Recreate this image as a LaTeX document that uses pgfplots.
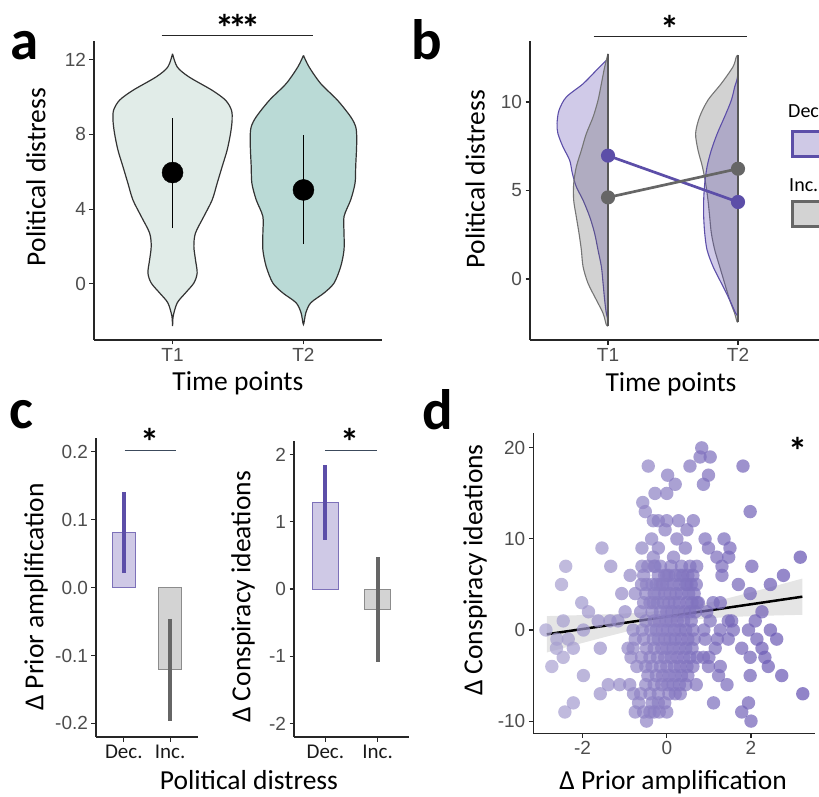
\documentclass[border=0pt]{standalone}
\usepackage{pgfplots}
\pgfplotsset{compat=1.18}
\usepackage{fontspec}
\setmainfont{Carlito}
\newfontfamily\tickfont{Liberation Sans}

\definecolor{tickgray}{RGB}{77,77,77}
\definecolor{vioA}{RGB}{225,236,232}
\definecolor{vioB}{RGB}{186,218,214}
\definecolor{decline}{RGB}{92,78,168}
\definecolor{decfill}{RGB}{80,60,170}
\definecolor{incline}{RGB}{102,102,102}
\definecolor{incfill}{RGB}{90,90,90}
\definecolor{decbar}{RGB}{207,201,230}
\definecolor{incbar}{RGB}{211,211,211}
\definecolor{sigline}{RGB}{60,74,92}

\pgfplotsset{
  gg/.style={
    scale only axis, clip=false, anchor=south west,
    axis x line*=bottom, axis y line*=left,
    axis line style={-, line width=1.1pt, black!85},
    tick style={line width=1.1pt, black!85},
    tick align=outside, major tick length=4.5pt,
    tick label style={font=\tickfont\fontsize{19}{19}\selectfont, text=tickgray},
    /pgf/number format/assume math mode=true,
    label style={font=\fontsize{27.5}{30}\selectfont, anchor=center},
  },
}
\newcommand{\stars}{\fontsize{38}{38}\selectfont\bfseries}

\begin{document}
\begin{tikzpicture}
\useasboundingbox (0pt,0pt) rectangle (819pt,796pt);
\clip (0pt,0pt) rectangle (819pt,796pt);

% ---------- a: violins ----------
\begin{axis}[gg, at={(94pt,456pt)}, width=288pt, height=299pt,
  xmin=0.4, xmax=2.6, ymin=-3, ymax=13,
  xtick={1,2}, xticklabels={T1,T2}, ytick={0,4,8,12},
  xlabel={Time points}, ylabel={Political distress},
  xlabel style={at={(axis description cs:0.5,-0.1455)}},
  ylabel style={at={(axis description cs:-0.202,0.545)}}]
\addplot[fill=vioA, draw=black!80, line width=1.2pt, smooth] coordinates {
 (1.000,12.32) (1.036,11.61) (1.125,11.08) (1.303,10.36) (1.405,9.83) (1.450,9.30)
 (1.455,8.76) (1.443,8.05) (1.417,7.16) (1.379,6.28) (1.341,5.39) (1.303,4.50)
 (1.239,3.61) (1.175,2.72) (1.163,2.01) (1.175,1.30) (1.188,0.59) (1.163,0.05)
 (1.099,-0.48) (1.036,-1.01) (1.005,-1.72) (1.000,-2.26)
 (0.995,-1.72) (0.964,-1.01) (0.901,-0.48) (0.837,0.05) (0.812,0.59) (0.825,1.30)
 (0.837,2.01) (0.825,2.72) (0.761,3.61) (0.697,4.50) (0.659,5.39) (0.621,6.28)
 (0.583,7.16) (0.557,8.05) (0.545,8.76) (0.550,9.30) (0.595,9.83) (0.697,10.36)
 (0.875,11.08) (0.964,11.61) (1.000,12.32)};
\addplot[fill=vioB, draw=black!80, line width=1.2pt, smooth] coordinates {
 (2.000,12.23) (2.043,11.61) (2.132,10.72) (2.260,9.83) (2.361,8.94) (2.399,8.41)
 (2.407,7.88) (2.405,7.16) (2.399,6.28) (2.394,5.39) (2.361,4.50) (2.310,3.61)
 (2.310,2.72) (2.310,1.83) (2.285,0.94) (2.234,0.05) (2.158,-0.48) (2.056,-1.01)
 (2.018,-1.55) (2.000,-2.17)
 (1.982,-1.55) (1.944,-1.01) (1.842,-0.48) (1.766,0.05) (1.715,0.94) (1.690,1.83)
 (1.690,2.72) (1.690,3.61) (1.639,4.50) (1.606,5.39) (1.601,6.28) (1.595,7.16)
 (1.593,7.88) (1.601,8.41) (1.639,8.94) (1.740,9.83) (1.868,10.72) (1.957,11.61)
 (2.000,12.23)};
\addplot[black, line width=1.5pt] coordinates {(1,2.99) (1,8.90)};
\addplot[black, line width=1.5pt] coordinates {(2,2.13) (2,7.96)};
\addplot[only marks, mark=*, mark size=10.5pt, black] coordinates {(1,5.96) (2,5.03)};
\draw[line width=1.1pt, black!85] (axis cs:0.916,13.27) -- (axis cs:2.076,13.27);
\node[font=\stars] at (axis cs:1.5,13.72) {*\kern-6pt*\kern-6pt*};
\end{axis}

% ---------- b: split violins ----------
\begin{axis}[gg, at={(530pt,456pt)}, width=289pt, height=299pt,
  xmin=0.4, xmax=2.623, ymin=-3.45, ymax=13.45,
  xtick={1,2}, xticklabels={T1,T2}, ytick={0,5,10},
  xlabel={Time points}, ylabel={Political distress},
  xlabel style={at={(axis description cs:0.488,-0.149)}},
  ylabel style={at={(axis description cs:-0.19,0.538)}}]
\addplot[fill=decfill, fill opacity=0.27, draw=decline, line width=1.1pt, smooth] coordinates {
 (1.000,12.45) (0.974,12.26) (0.910,11.79) (0.808,11.03) (0.679,10.28) (0.623,9.53)
 (0.608,8.78) (0.615,8.21) (0.654,7.46) (0.705,6.71) (0.726,5.96) (0.756,5.21)
 (0.808,4.45) (0.859,3.52) (0.897,2.58) (0.923,1.64) (0.949,0.70) (0.962,-0.24)
 (0.974,-1.18) (0.987,-1.94) (1.000,-2.30)};
\addplot[fill=incfill, fill opacity=0.27, draw=incline!90, line width=1.1pt, smooth] coordinates {
 (1.000,12.73) (0.974,11.97) (0.949,11.03) (0.923,10.09) (0.885,9.15) (0.833,8.21)
 (0.795,7.27) (0.756,6.33) (0.736,5.39) (0.736,4.45) (0.756,3.52) (0.777,2.58)
 (0.795,1.64) (0.808,0.70) (0.846,-0.24) (0.910,-1.18) (0.962,-1.94) (0.987,-2.59)
 (1.000,-2.65)};
\addplot[fill=incfill, fill opacity=0.27, draw=incline!90, line width=1.1pt, smooth] coordinates {
 (2.000,12.64) (1.987,12.56) (1.962,12.00) (1.872,11.05) (1.769,10.11) (1.705,9.17)
 (1.674,8.23) (1.692,7.29) (1.726,6.35) (1.751,5.40) (1.769,4.46) (1.782,3.52)
 (1.795,2.58) (1.821,1.64) (1.859,0.70) (1.897,-0.24) (1.936,-1.19) (1.974,-1.94)
 (1.992,-2.41) (2.000,-2.45)};
\addplot[fill=decfill, fill opacity=0.27, draw=decline, line width=1.1pt, smooth] coordinates {
 (2.000,11.60) (1.990,11.20) (1.975,10.87) (1.949,10.11) (1.897,9.17) (1.841,8.23)
 (1.795,7.29) (1.762,6.35) (1.744,5.40) (1.736,4.46) (1.736,3.52) (1.744,2.58)
 (1.762,1.64) (1.808,0.70) (1.872,-0.24) (1.936,-1.19) (1.982,-1.94) (2.000,-2.10)};
\addplot[incline!85!black, line width=1.5pt] coordinates {(1,-2.65) (1,12.73)};
\addplot[incline!85!black, line width=1.5pt] coordinates {(2,-2.45) (2,12.64)};
\addplot[decline, line width=2.7pt, mark=*, mark size=5.7pt] coordinates {(1,6.97) (2,4.35)};
\addplot[incline, line width=2.7pt, mark=*, mark size=5.7pt] coordinates {(1,4.61) (2,6.23)};
\draw[line width=1.1pt, black!85] (axis cs:0.89,13.69) -- (axis cs:2.07,13.69);
\node[font=\stars] at (axis cs:1.48,14.16) {*};
\end{axis}

% ---------- c: bar charts ----------
\begin{axis}[gg, at={(96pt,59pt)}, width=102pt, height=299pt,
  xmin=0.4, xmax=2.6, ymin=-0.22, ymax=0.22,
  xtick={1,2}, xticklabels={Dec.,Inc.},
  ytick={-0.2,-0.1,0,0.1,0.2}, yticklabels={-0.2,-0.1,0.0,0.1,0.2},
  xticklabel style={font=\fontsize{21}{21}\selectfont, text=black!90},
  ylabel={Δ Prior amplification},
  ylabel style={at={(axis description cs:-0.588,0.468)}}]
\addplot[ybar, bar shift=0pt, bar width=0.5, fill=decbar, draw=decline!80, line width=1pt] coordinates {(1,0.081)};
\addplot[ybar, bar shift=0pt, bar width=0.5, fill=incbar, draw=black!45, line width=1pt] coordinates {(2,-0.121)};
\addplot[decline, line width=4pt] coordinates {(1,0.021) (1,0.141)};
\addplot[incline, line width=4pt] coordinates {(2,-0.046) (2,-0.197)};
\draw[line width=1.1pt, sigline] (axis cs:1.02,0.2014) -- (axis cs:2.13,0.2014);
\node[font=\stars] at (axis cs:1.57,0.2149) {*};
\end{axis}

\begin{axis}[gg, at={(294pt,59pt)}, width=115pt, height=296pt,
  xmin=0.4, xmax=2.6, ymin=-2.2, ymax=2.2,
  xtick={1,2}, xticklabels={Dec.,Inc.}, ytick={-2,-1,0,1,2},
  xticklabel style={font=\fontsize{21}{21}\selectfont, text=black!90},
  ylabel={Δ Conspiracy ideations},
  ylabel style={at={(axis description cs:-0.443,0.473)}}]
\addplot[ybar, bar shift=0pt, bar width=0.5, fill=decbar, draw=decline!80, line width=1pt] coordinates {(1,1.287)};
\addplot[ybar, bar shift=0pt, bar width=0.5, fill=incbar, draw=black!45, line width=1pt] coordinates {(2,-0.30)};
\addplot[decline, line width=4pt] coordinates {(1,0.73) (1,1.84)};
\addplot[incline, line width=4pt] coordinates {(2,0.47) (2,-1.08)};
\draw[line width=1.1pt, sigline] (axis cs:0.99,2.056) -- (axis cs:1.99,2.056);
\node[font=\stars] at (axis cs:1.47,2.193) {*};
\end{axis}

% ---------- d: scatter ----------
\begin{axis}[gg, at={(533.3pt,62.7pt)}, width=281.7pt, height=300pt,
  xmin=-3.17, xmax=3.52, ymin=-11.34, ymax=21.6,
  xtick={-2,0,2}, ytick={-10,0,10,20},
  xlabel={Δ Prior amplification}, ylabel={Δ Conspiracy ideations},
  xlabel style={at={(axis description cs:0.496,-0.164)}},
  ylabel style={at={(axis description cs:-0.207,0.544)}},
  colormap={lav}{rgb255=(172,165,210) rgb255=(98,79,176)},
  point meta min=-3, point meta max=3.3]
\addplot[scatter, only marks, mark=*, mark size=6.7pt, point meta=x,
  scatter/use mapped color={fill=mapped color},
  mark options={fill opacity=0.7, draw opacity=0}] coordinates {
 (0.83,20) (0.79,19) (1.03,19) (-0.44,18) (0.55,18) (1.81,18) (0.02,17) (0.99,17)
 (0.87,16) (0.20,16) (-0.28,15) (0.00,15) (-0.57,14) (-0.51,13) (1.98,13)
 (-0.32,12) (-0.20,12) (0.00,12) (0.28,12) (0.63,12) (-0.04,11) (0.48,11)
 (-0.36,10) (0.24,10) (0.91,10) (1.36,10)
 (-1.54,9) (-0.59,9) (-0.20,9) (0.44,9) (0.99,9) (1.50,9)
 (-0.32,8) (0.16,8) (1.19,8) (1.47,8) (3.17,8)
 (-2.40,7) (-1.33,7) (-0.59,7) (-0.28,7) (0.71,7) (1.31,7) (2.02,7)
 (-0.87,6) (0.00,6) (0.32,6) (1.31,6) (2.77,6)
 (-2.50,5) (-0.48,5) (-0.16,5) (0.48,5) (1.70,5) (2.46,5)
 (-1.07,4) (-0.75,4) (1.98,4) (-2.02,3) (-0.32,3) (1.27,3) (0.75,3) (1.10,3)
 (-1.86,2) (-0.99,2) (2.26,2) (0.95,2)
 (-2.46,1) (-1.63,1) (-1.35,1) (-1.16,1) (1.03,1) (1.46,1) (1.54,1) (2.10,1)
 (-2.87,0) (-1.98,0) (1.27,0) (1.58,0) (1.94,0) (2.46,0) (0.88,0) (-0.80,0)
 (-2.61,-1) (-2.34,-1) (0.91,-1) (1.46,-1) (2.14,-1) (2.61,-1) (1.20,-1) (-0.75,-1)
 (-2.22,-2) (-1.58,-2) (-2.62,-2) (1.15,-2) (1.78,-2) (2.26,-2) (-0.92,-2) (-0.80,-2)
 (-2.46,-3) (0.87,-3) (1.98,-3) (2.33,-3) (1.00,-3) (-0.85,-3)
 (-2.73,-4) (0.99,-4) (1.27,-4) (2.41,-4) (-0.71,-4)
 (-1.98,-5) (1.23,-5) (1.98,-5) (2.73,-5)
 (-1.39,-6) (-1.12,-6) (-0.88,-6) (1.43,-6) (0.70,-6)
 (-1.58,-7) (3.23,-7) (-0.79,-7)
 (-2.22,-8) (1.11,-8) (1.94,-8) (-0.67,-8)
 (-2.42,-9) (-0.75,-9) (0.00,-9) (1.78,-9) (-0.48,-10) (2.00,-10)
 (-0.45,7) (-0.30,7) (-0.15,7) (0.10,7) (0.35,7) (0.55,7)
 (-0.55,6) (-0.20,6) (-0.05,6) (0.05,6) (0.20,6) (0.38,6) (0.50,6) (0.62,6)
 (-0.60,5) (-0.35,5) (-0.25,5) (-0.10,5) (0.00,5) (0.15,5) (0.30,5) (0.45,5) (0.58,5) (0.70,5)
 (-0.50,4) (-0.30,4) (-0.20,4) (-0.05,4) (0.08,4) (0.22,4) (0.35,4) (0.52,4) (0.65,4)
 (-0.55,3) (-0.40,3) (-0.22,3) (-0.08,3) (0.05,3) (0.18,3) (0.30,3) (0.48,3) (0.60,3) (0.72,3)
 (-0.62,2) (-0.35,2) (-0.15,2) (0.00,2) (0.12,2) (0.28,2) (0.42,2) (0.55,2) (0.68,2)
 (-0.50,1) (-0.30,1) (-0.18,1) (-0.02,1) (0.10,1) (0.25,1) (0.40,1) (0.58,1)
 (-0.58,0) (-0.38,0) (-0.25,0) (-0.10,0) (0.02,0) (0.18,0) (0.32,0) (0.45,0) (0.62,0)
 (-0.55,-1) (-0.32,-1) (-0.20,-1) (-0.05,-1) (0.08,-1) (0.20,-1) (0.35,-1) (0.50,-1) (0.65,-1)
 (-0.48,-2) (-0.30,-2) (-0.12,-2) (0.00,-2) (0.15,-2) (0.30,-2) (0.45,-2) (0.60,-2)
 (-0.60,-3) (-0.40,-3) (-0.22,-3) (-0.05,-3) (0.10,-3) (0.25,-3) (0.40,-3) (0.55,-3) (0.72,-3)
 (-0.50,-4) (-0.35,-4) (-0.15,-4) (0.00,-4) (0.18,-4) (0.32,-4) (0.48,-4) (0.62,-4)
 (-0.45,-5) (-0.25,-5) (-0.10,-5) (0.05,-5) (0.20,-5) (0.35,-5) (0.50,-5)
 (-0.50,-6) (-0.30,-6) (-0.12,-6) (0.02,-6) (0.15,-6) (0.30,-6) (0.45,-6)
 (-0.62,-7) (-0.40,-7) (-0.20,-7) (0.05,-7) (0.20,-7) (0.32,-7)
 (-0.35,-8) (-0.20,-8) (-0.05,-8)
 (-0.55,-9) (-0.40,-9) (-0.30,-9) (-0.18,-9)};
\addplot[fill=black!40, fill opacity=0.25, draw=none] coordinates {
 (-2.85,1.53) (-2.4,1.59) (-2,1.64) (-1.5,1.71) (-1,1.81) (-0.5,1.95) (0,2.18)
 (0.5,2.53) (1,3.01) (1.5,3.55) (2,4.14) (2.5,4.75) (3.22,5.65)
 (3.22,1.67) (2.5,1.59) (2,1.52) (1.5,1.43) (1,1.29) (0.5,1.09) (0,0.76)
 (-0.5,0.31) (-1,-0.23) (-1.5,-0.81) (-2,-1.42) (-2.4,-1.91) (-2.85,-2.47)};
\addplot[black, line width=2.5pt] coordinates {(-2.85,-0.47) (3.22,3.66)};
\node[font=\stars] at (axis cs:3.12,19.7) {*};
\end{axis}

\begin{scope}[x=1pt,y=1pt]
\node[anchor=base, font=\fontsize{27.5}{30}\selectfont] at (249,7) {Political distress};
% legend of b, cut at the edge
\node[anchor=base west, inner sep=0pt, font=\fontsize{20}{20}\selectfont] at (788,678) {Dec.};
\draw[line width=3pt, decline, fill=decbar] (792.5,639.5) rectangle (840,664.5);
\node[anchor=base west, inner sep=0pt, font=\fontsize{20}{20}\selectfont] at (789,604) {Inc.};
\draw[line width=3pt, incline, fill=incbar] (792.5,569.5) rectangle (840,594.5);
% panel letters
\begin{scope}[every node/.style={anchor=base west, inner sep=0pt, font=\fontsize{57}{57}\selectfont\bfseries}]
\node at (10.5,736.7) {a};
\node at (411,736) {b};
\node at (9.7,367) {c};
\node at (422.4,366) {d};
\end{scope}
\end{scope}
\end{tikzpicture}
\end{document}
